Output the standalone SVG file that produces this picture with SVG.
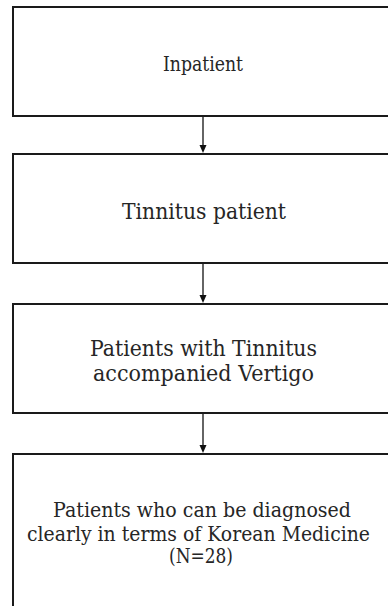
<svg xmlns="http://www.w3.org/2000/svg" width="388" height="606" viewBox="0 0 388 606">
<defs>
<style>
.box{fill:#fff;stroke:#1a1a1a;stroke-width:2}
.t{font-family:"DejaVu Serif","Liberation Serif",serif;fill:#262626;text-anchor:middle;font-size:23px}
.s{font-size:21px}
.c{stroke:#111;stroke-width:1.3;fill:none}
.h{fill:#111}
</style>
</defs>
<rect width="388" height="606" fill="#fff"/>
<g id="n1"><rect class="box" x="13" y="7" width="380" height="109"/><text class="t" x="203" y="71" style="font-size:21px" textLength="80" lengthAdjust="spacingAndGlyphs">Inpatient</text></g>
<g id="n2"><rect class="box" x="13" y="154" width="380" height="109"/><text class="t" x="204" y="219" textLength="164" lengthAdjust="spacingAndGlyphs">Tinnitus patient</text></g>
<g id="n3"><rect class="box" x="13" y="304" width="380" height="109"/><text class="t" x="203.5" y="356" textLength="227" lengthAdjust="spacingAndGlyphs">Patients with Tinnitus</text><text class="t" x="203.5" y="381" textLength="221" lengthAdjust="spacingAndGlyphs">accompanied Vertigo</text></g>
<g id="n4"><rect class="box" x="13" y="454" width="380" height="170"/><text class="t s" x="202" y="517" textLength="298" lengthAdjust="spacingAndGlyphs">Patients who can be diagnosed</text><text class="t s" x="198.5" y="541" textLength="343" lengthAdjust="spacingAndGlyphs">clearly in terms of Korean Medicine</text><text class="t s" x="201" y="563" textLength="64" lengthAdjust="spacingAndGlyphs">(N=28)</text></g>
<g id="connectors">
<path class="c" d="M203,117 V145"/><path class="h" d="M199.5,145 L206.5,145 L203,153 Z"/>
<path class="c" d="M203,264 V295"/><path class="h" d="M199.5,295 L206.5,295 L203,303 Z"/>
<path class="c" d="M203,414 V445"/><path class="h" d="M199.5,445 L206.5,445 L203,453 Z"/>
</g>
</svg>
